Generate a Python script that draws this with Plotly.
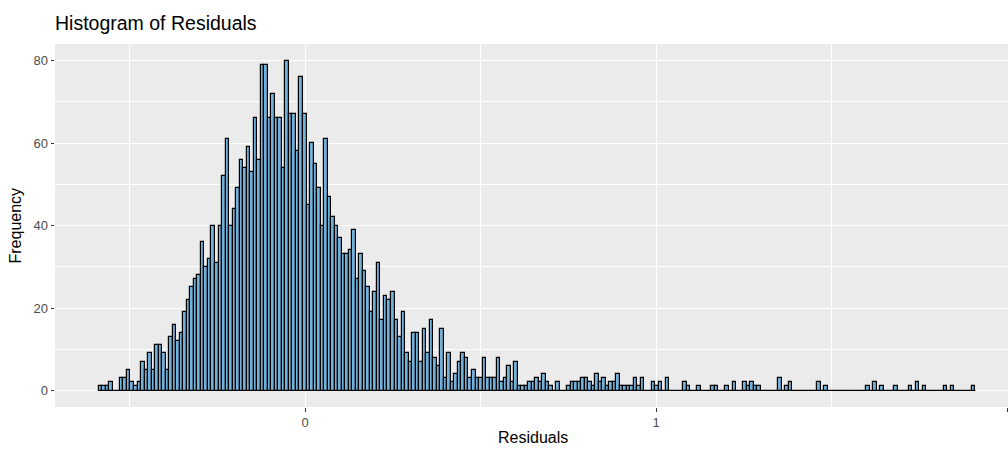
import plotly.graph_objects as go

# ---- data: residual histogram (counts per bin) ----
bin_start = -0.5875
bin_width = 0.01003
counts = [
    1, 1, 1, 2, 0, 0, 3, 3, 5, 2, 1, 2, 7, 5, 9, 5, 11, 11, 9, 5,
    13, 16, 12, 14, 19, 22, 25, 27, 28, 36, 30, 32, 40, 31, 40, 52, 61, 40, 44, 49,
    56, 54, 59, 53, 66, 56, 79, 79, 66, 72, 66, 66, 54, 80, 67, 67, 58, 76, 67, 45,
    60, 55, 49, 40, 61, 47, 42, 40, 37, 33, 33, 34, 39, 27, 33, 29, 25, 19, 24, 31,
    17, 23, 22, 24, 17, 13, 19, 9, 7, 14, 14, 7, 15, 9, 17, 8, 6, 15, 3, 9,
    2, 4, 7, 9, 8, 3, 5, 3, 3, 8, 3, 3, 3, 8, 2, 3, 6, 2, 7, 1,
    1, 1, 2, 2, 3, 2, 4, 2, 1, 0, 2, 0, 0, 1, 2, 2, 2, 3, 3, 2,
    1, 4, 2, 3, 1, 2, 2, 4, 1, 1, 1, 1, 3, 1, 3, 0, 0, 2, 1, 2,
    0, 3, 0, 0, 0, 0, 2, 1, 0, 0, 1, 0, 0, 0, 1, 1, 0, 0, 1, 0,
    2, 0, 0, 2, 1, 2, 1, 1, 0, 0, 0, 0, 0, 3, 0, 1, 2, 0, 0, 0,
    0, 0, 0, 0, 2, 0, 1, 0, 0, 0, 0, 0, 0, 0, 0, 0, 0, 0, 1, 0,
    2, 0, 1, 0, 0, 0, 1, 0, 0, 0, 1, 0, 2, 0, 1, 0, 0, 0, 0, 0,
    1, 0, 1, 0, 0, 0, 0, 0, 1,
]
x_ticks = [0, 1, 2]
y_ticks = [0, 20, 40, 60, 80]

centers = [bin_start + bin_width * (i + 0.5) for i in range(len(counts))]
edges_lo = bin_start
edges_hi = bin_start + bin_width * len(counts)

fig = go.Figure()
# zero-height bins still show their outline along the baseline in ggplot
fig.add_trace(go.Scatter(
    x=[edges_lo, edges_hi], y=[0, 0], mode="lines",
    line=dict(color="black", width=1.2), hoverinfo="skip", showlegend=False,
))
fig.add_trace(go.Bar(
    x=centers, y=counts, width=bin_width,
    marker=dict(color="#72B2DA", line=dict(color="black", width=1.2)),
    showlegend=False,
))

font_fam = "Liberation Sans, Arial, Helvetica, sans-serif"

fig.update_layout(
    width=1008, height=451,
    margin=dict(l=55, r=0, t=44, b=43.5, pad=0),
    paper_bgcolor="white", plot_bgcolor="#EBEBEB",
    bargap=0,
    font=dict(family=font_fam, color="#4D4D4D", size=13),
    title=dict(text="Histogram of Residuals", x=55 / 1008, xanchor="left",
               xref="container", y=1 - 23 / 451, yref="container", yanchor="middle",
               font=dict(size=19.5, color="black", family=font_fam)),
    xaxis=dict(
        range=[-0.7123, 2.0028], tickvals=x_ticks, ticktext=[str(v) for v in x_ticks],
        showgrid=True, gridcolor="white", gridwidth=1.1, zeroline=False,
        ticks="outside", ticklen=3.5, tickcolor="#333333", tickwidth=1,
        tickfont=dict(size=13, color="#4D4D4D"), showline=False,
        minor=dict(dtick=0.5, tick0=0, showgrid=True, gridcolor="white", gridwidth=0.55),
    ),
    yaxis=dict(
        range=[-4, 84], tickvals=y_ticks, ticktext=[str(v) for v in y_ticks],
        showgrid=True, gridcolor="white", gridwidth=1.1, zeroline=False,
        ticks="outside", ticklen=3.5, tickcolor="#333333", tickwidth=1,
        tickfont=dict(size=13, color="#4D4D4D"), showline=False,
        minor=dict(dtick=10, tick0=0, showgrid=True, gridcolor="white", gridwidth=0.55),
    ),
    annotations=[
        dict(text="Residuals", xref="paper", yref="paper", x=(533 - 55) / 953,
             y=-(438 - 407.5) / 363.5, xanchor="center", yanchor="middle",
             showarrow=False, font=dict(size=16, color="black", family=font_fam)),
        dict(text="Frequency", xref="paper", yref="paper", x=(15 - 55) / 953,
             y=0.5, xanchor="center", yanchor="middle", textangle=-90,
             showarrow=False, font=dict(size=16, color="black", family=font_fam)),
    ],
)

fig.write_html("out.html")
